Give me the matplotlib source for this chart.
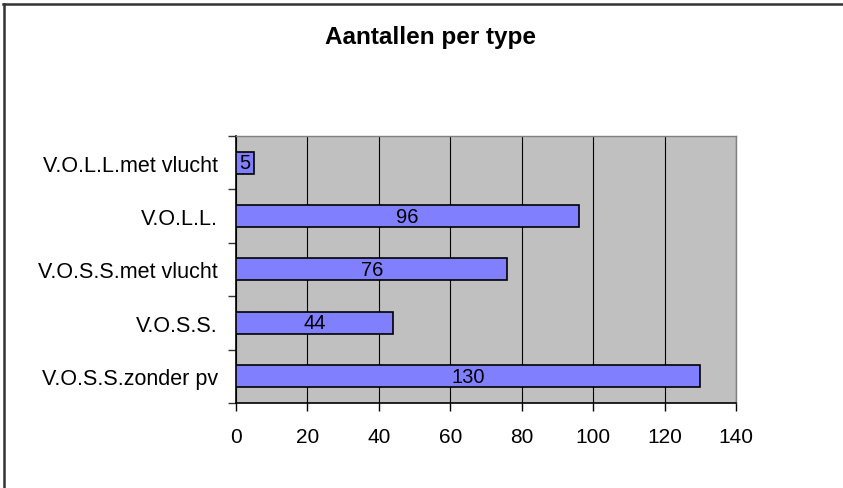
import matplotlib
matplotlib.use("Agg")
import matplotlib.pyplot as plt
from matplotlib.lines import Line2D

# data (bottom to top)
types = ["V.O.S.S.zonder pv", "V.O.S.S.", "V.O.S.S.met vlucht", "V.O.L.L.", "V.O.L.L.met vlucht"]
counts = [130, 44, 76, 96, 5]
x_ticks = [0, 20, 40, 60, 80, 100, 120, 140]

plt.rcParams["font.family"] = ["Liberation Sans", "DejaVu Sans"]

fig = plt.figure(figsize=(8.43, 4.89), dpi=100)
ax = fig.add_axes([0.280, 0.174, 0.593, 0.546])

# Excel-like frame: only top and left edges visible
fig.add_artist(Line2D([0.005, 0.005], [0, 0.989], transform=fig.transFigure, color="#333333", lw=1.8))
fig.add_artist(Line2D([0.004, 1], [0.989, 0.989], transform=fig.transFigure, color="#333333", lw=1.8))

ax.set_facecolor("#C0C0C0")
pos = range(len(types))
bars = ax.barh(pos, counts, height=0.41, color="#8080FF", edgecolor="black", linewidth=1.2, zorder=3)

for b, v in zip(bars, counts):
    ax.text(b.get_x() + b.get_width() / 2, b.get_y() + b.get_height() / 2, str(v),
            ha="center", va="center", fontsize=14.5, zorder=4)

ax.set_xlim(0, 140)
ax.set_ylim(-0.5, len(types) - 0.5)
ax.set_xticks(x_ticks)
ax.xaxis.grid(True, color="black", linewidth=0.8, zorder=1)
ax.set_axisbelow(True)

ax.set_yticks([i - 0.5 for i in range(len(types) + 1)])
ax.set_yticklabels([])
ax.set_yticks(list(pos), minor=True)
ax.set_yticklabels(types, minor=True, fontsize=15.5)
ax.tick_params(axis="y", which="minor", length=0, pad=13)
ax.tick_params(axis="y", which="major", length=6, width=1, color="#333333")
ax.tick_params(axis="x", length=6, width=1, labelsize=15, pad=11)

for s in ["top", "right"]:
    ax.spines[s].set_color("#808080")
    ax.spines[s].set_linewidth(1)
ax.spines["left"].set_linewidth(1.2)
ax.spines["bottom"].set_linewidth(1.2)

fig.text(0.511, 0.924, "Aantallen per type", ha="center", va="center", fontsize=17.5, fontweight="bold")

fig.savefig("out.png", dpi=100)
